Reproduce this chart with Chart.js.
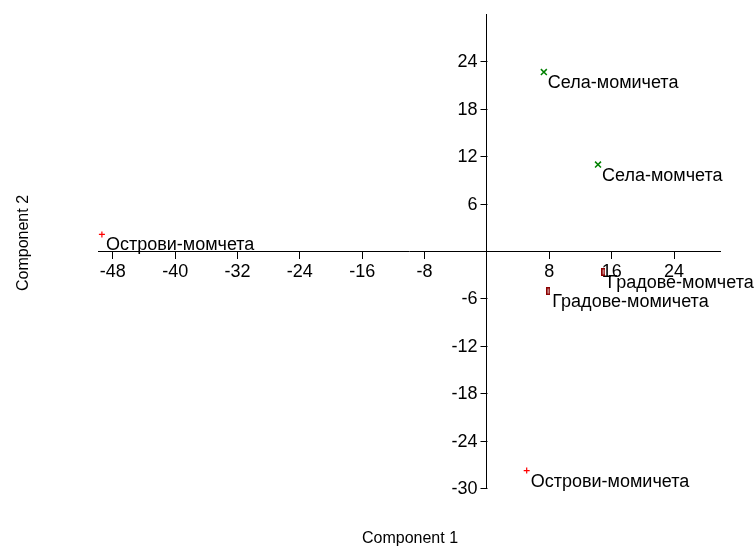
<!DOCTYPE html>
<html>
<head>
<meta charset="utf-8">
<script src="https://cdn.jsdelivr.net/npm/chart.js@4"></script>
<style>
	body { margin: 0; background: #fff; }
	canvas { display: block; }
</style>
</head>
<body>
<canvas id="chart" width="754" height="546"></canvas>
<script>
// PCA scores
const pointNames = ["Острови-момчета", "Острови-момичета", "Села-момичета", "Села-момчета", "Градове-момчета", "Градове-момичета"];
const pointGroups = ["Острови", "Острови", "Села", "Села", "Градове", "Градове"];
const component1 = [-49.4, 5.1, 7.3, 14.25, 14.95, 7.88];
const component2 = [2.1, -27.8, 22.65, 10.94, -2.64, -5.08];

const xTickValues = [-48, -40, -32, -24, -16, -8, 8, 16, 24];
const yTickValues = [24, 18, 12, 6, -6, -12, -18, -24, -30];

const fontFamily = "'Liberation Sans', Arial, sans-serif";
const tickFont = "18px " + fontFamily;

const boxMarker = function() {
	const c = document.createElement("canvas");
	c.width = 4;
	c.height = 8;
	const ctx = c.getContext("2d");
	ctx.fillStyle = "#8b0000";
	ctx.fillRect(0, 0, 4, 8);
	ctx.fillStyle = "#fff";
	ctx.fillRect(1.5, 1.5, 1, 5);
	return c;
}

const groupStyles = {
	"Острови": {pointStyle: "cross", radius: 3, color: "#ff0000", width: 1.2},
	"Села": {pointStyle: "crossRot", radius: 4.2, color: "#008000", width: 1.5},
	"Градове": {pointStyle: boxMarker(), radius: 4, color: "#8b0000", width: 1}
};

const datasets = Object.keys(groupStyles).map(function(group) {
	const style = groupStyles[group];
	const data = [];
	pointGroups.forEach(function(g, i) {
		if (g == group) data.push({x: component1[i], y: component2[i], name: pointNames[i]});
	});
	return {
		label: group,
		data: data,
		pointStyle: style.pointStyle,
		pointRadius: style.radius,
		pointHoverRadius: style.radius,
		borderColor: style.color,
		backgroundColor: style.color,
		borderWidth: style.width,
		clip: false
	};
});

// the y axis sits at x = 0, so its ticks and labels are drawn here, to its left
const yTicksPlugin = {
	id: "yTicks",
	afterDraw(chart) {
		const ctx = chart.ctx;
		const xs = chart.scales.x, ys = chart.scales.y;
		const x0 = Math.round(xs.getPixelForValue(0)) + 0.5;
		ctx.save();
		ctx.strokeStyle = "#000";
		ctx.lineWidth = 1;
		ctx.fillStyle = "#000";
		ctx.font = tickFont;
		ctx.textAlign = "right";
		ctx.textBaseline = "middle";
		for (let v of yTickValues) {
			const y = Math.round(ys.getPixelForValue(v)) + 0.5;
			ctx.beginPath();
			ctx.moveTo(x0 - 7, y);
			ctx.lineTo(x0, y);
			ctx.stroke();
			ctx.fillText(v, x0 - 10, y + 1);
		}
		ctx.restore();
	}
};

const pointLabelPlugin = {
	id: "pointLabels",
	afterDatasetsDraw(chart) {
		const ctx = chart.ctx;
		ctx.save();
		ctx.font = tickFont;
		ctx.fillStyle = "#000";
		ctx.textAlign = "left";
		ctx.textBaseline = "alphabetic";
		chart.data.datasets.forEach(function(ds, i) {
			chart.getDatasetMeta(i).data.forEach(function(el, j) {
				ctx.fillText(ds.data[j].name, el.x + 4, el.y + 16);
			});
		});
		ctx.restore();
	}
};

const axisTitlePlugin = {
	id: "axisTitles",
	afterDraw(chart) {
		const ctx = chart.ctx;
		ctx.save();
		ctx.font = "16px " + fontFamily;
		ctx.fillStyle = "#000";
		ctx.textAlign = "center";
		ctx.textBaseline = "alphabetic";
		ctx.fillText("Component 1", 410, 543);
		ctx.translate(28, 243);
		ctx.rotate(-Math.PI / 2);
		ctx.fillText("Component 2", 0, 0);
		ctx.restore();
	}
};

new Chart(document.getElementById("chart"), {
	type: "scatter",
	data: {datasets: datasets},
	options: {
		responsive: false,
		animation: false,
		events: [],
		layout: {padding: {left: 98, right: 34, top: 14, bottom: 58}},
		plugins: {legend: {display: false}, tooltip: {enabled: false}},
		scales: {
			x: {
				type: "linear",
				min: -49.9,
				max: 29.9,
				position: {y: 0},
				afterBuildTicks: function(scale) {
					scale.ticks = xTickValues.map(v => ({value: v}));
				},
				grid: {drawOnChartArea: false, drawTicks: true, tickLength: 7, color: "#000", tickColor: "#000"},
				border: {display: true, color: "#000", width: 1},
				ticks: {color: "#000", padding: 3, font: {family: fontFamily, size: 18}, maxRotation: 0, autoSkip: false}
			},
			y: {
				type: "linear",
				min: -30,
				max: 30,
				position: {x: 0},
				grid: {drawOnChartArea: false, drawTicks: false},
				border: {display: true, color: "#000", width: 1},
				ticks: {display: false}
			}
		}
	},
	plugins: [pointLabelPlugin, yTicksPlugin, axisTitlePlugin]
});
</script>
</body>
</html>
